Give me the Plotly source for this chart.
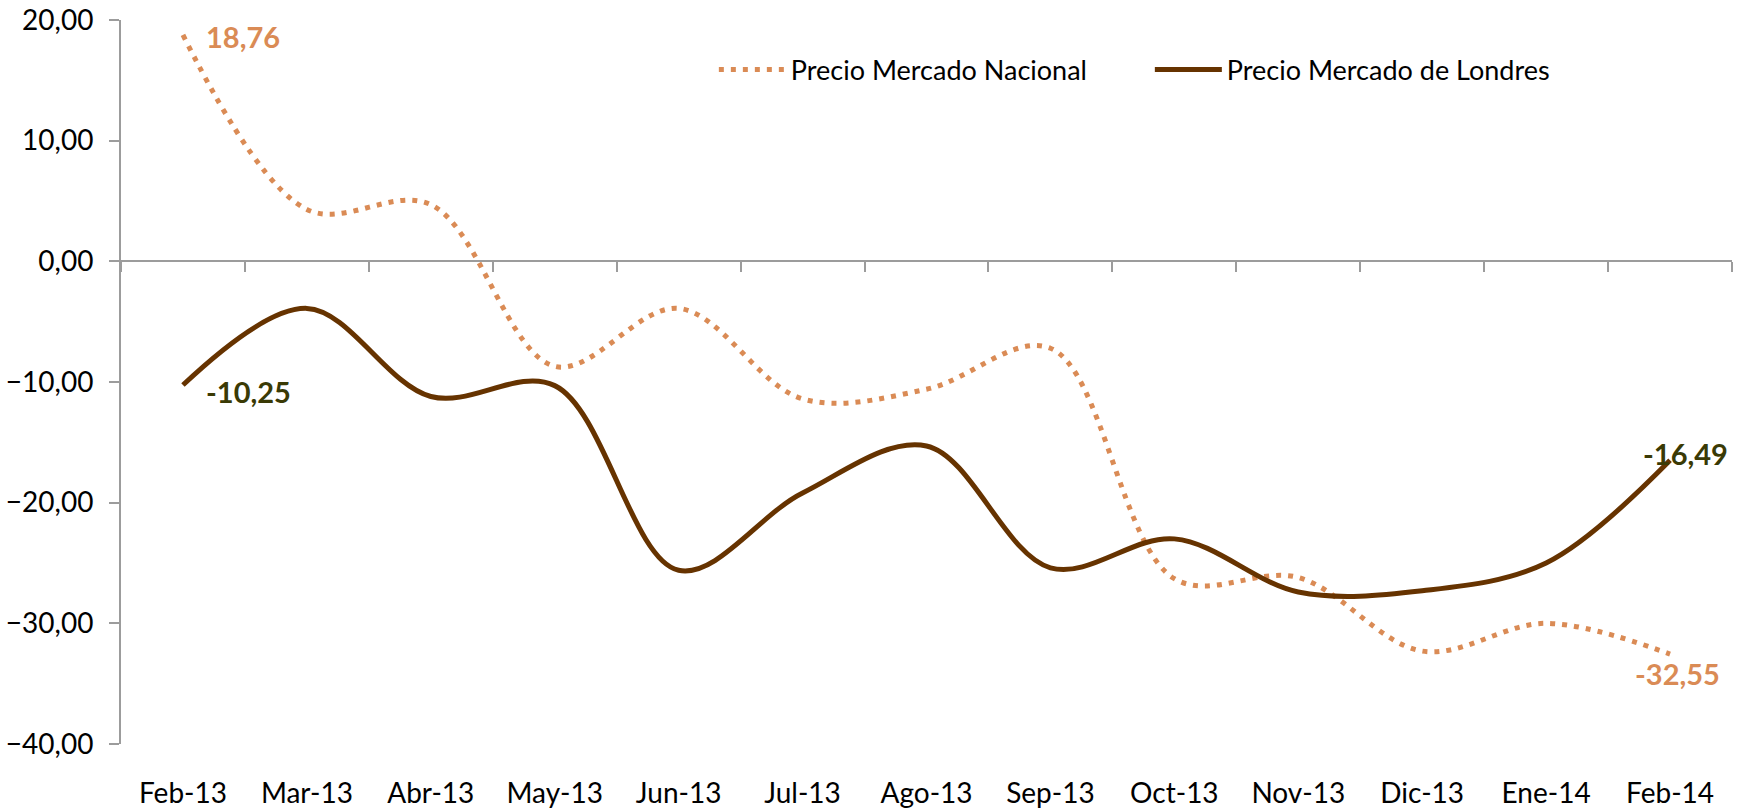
import plotly.graph_objects as go

# Monthly price variation (%) for the two markets
meses = ["Feb-13", "Mar-13", "Abr-13", "May-13", "Jun-13", "Jul-13", "Ago-13",
         "Sep-13", "Oct-13", "Nov-13", "Dic-13", "Ene-14", "Feb-14"]
nacional = [18.76, 4.3, 4.7, -8.7, -3.9, -11.4, -10.6, -7.2, -26.3, -26.2, -32.3, -30.0, -32.55]
londres = [-10.25, -3.9, -11.2, -10.3, -25.6, -19.2, -15.3, -25.4, -23.0, -27.4, -27.3, -25.0, -16.49]

y_ticks = [20, 10, 0, -10, -20, -30, -40]

COL_NAC = "#DA8B55"
COL_LON = "#663300"
COL_LON_LABEL = "#3A3A05"
AXIS_COL = "#9C9C9C"
FONT = "Lato, 'Noto Sans', sans-serif"

fig = go.Figure()

fig.add_trace(go.Scatter(
    x=meses, y=nacional, name="Precio Mercado Nacional", mode="lines",
    line=dict(color=COL_NAC, width=5, dash="5px,7px", shape="spline", smoothing=1.0),
))
fig.add_trace(go.Scatter(
    x=meses, y=londres, name="Precio Mercado de Londres", mode="lines",
    line=dict(color=COL_LON, width=5, shape="spline", smoothing=1.0),
))
# carrier for the bottom category labels
fig.add_trace(go.Scatter(
    x=meses, y=[None] * len(meses), xaxis="x2", showlegend=False,
    hoverinfo="skip", mode="lines",
))


def fmt(v):
    return f"{v:.2f}".replace(".", ",")


# end-point value labels
labels = [
    (meses[0], nacional[0], COL_NAC, "left", 21, -2),
    (meses[-1], nacional[-1], COL_NAC, "center", 7, -19),
    (meses[0], londres[0], COL_LON_LABEL, "left", 21, -6),
    (meses[-1], londres[-1], COL_LON_LABEL, "center", 15, 7),
]
for xv, yv, col, xa, xs, ys in labels:
    fig.add_annotation(
        x=xv, y=yv, xref="x", yref="y", text=f"<b>{fmt(yv)}</b>", showarrow=False,
        xanchor=xa, yanchor="middle", xshift=xs, yshift=ys,
        font=dict(family=FONT, size=29, color=col),
    )

fig.update_layout(
    width=1744, height=811,
    margin=dict(l=121, r=12, t=20, b=67, autoexpand=False),
    paper_bgcolor="white", plot_bgcolor="white",
    separators=",.",
    font=dict(family=FONT, size=28, color="#000000"),
    showlegend=True,
    legend=dict(
        orientation="h", x=0.368, y=0.931, xanchor="left", yanchor="middle",
        font=dict(family=FONT, size=27, color="#000000"),
        itemwidth=67, entrywidth=354, bgcolor="rgba(0,0,0,0)",
    ),
    xaxis=dict(
        type="category", categoryorder="array", categoryarray=meses,
        range=[-0.5, len(meses) - 0.5],
        anchor="free", position=2 / 3, automargin=False,
        showline=True, linecolor=AXIS_COL, linewidth=2,
        ticks="outside", tickson="boundaries", ticklen=10, tickwidth=2, tickcolor=AXIS_COL,
        showticklabels=False, showgrid=False, zeroline=False,
    ),
    xaxis2=dict(
        type="category", categoryorder="array", categoryarray=meses,
        range=[-0.5, len(meses) - 0.5],
        overlaying="x", anchor="y", side="bottom", automargin=False,
        showline=False, ticks="", showgrid=False, zeroline=False,
        showticklabels=True, ticklabelstandoff=30,
        tickfont=dict(family=FONT, size=28, color="#000000"),
    ),
    yaxis=dict(
        range=[-40, 20], tickvals=y_ticks, tickformat=".2f", automargin=False,
        showline=True, linecolor=AXIS_COL, linewidth=2,
        ticks="outside", ticklen=10, tickwidth=2, tickcolor=AXIS_COL,
        showgrid=False, zeroline=False, ticklabelstandoff=10,
        tickfont=dict(family=FONT, size=28, color="#000000"),
    ),
)

fig.write_html("out.html")
